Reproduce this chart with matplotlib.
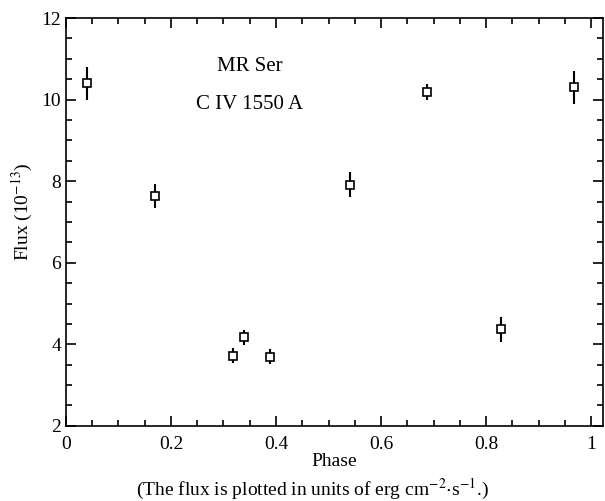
import numpy as np
import matplotlib.pyplot as plt
from matplotlib.ticker import MultipleLocator, FixedLocator

plt.rcParams['font.family'] = ['Liberation Serif', 'DejaVu Serif']
plt.rcParams['mathtext.fontset'] = 'stix'

# Data
phase = [0.041, 0.170, 0.319, 0.340, 0.389, 0.540, 0.687, 0.829, 0.968]
flux = [10.40, 7.64, 3.72, 4.17, 3.70, 7.91, 10.19, 4.37, 10.30]
flux_err = [0.40, 0.30, 0.18, 0.18, 0.18, 0.31, 0.19, 0.31, 0.40]

fig = plt.figure(figsize=(6.05, 5.01), dpi=100)
ax = fig.add_axes([0.109, 0.150, 0.888, 0.814])

ax.errorbar(phase, flux, yerr=flux_err, fmt='s', mfc='white', mec='black',
            ms=5.5, mew=1.2, ecolor='black', elinewidth=1.5, capsize=0, zorder=3)

ax.set_xlim(0, 1.023)
ax.set_ylim(2, 12)
ax.xaxis.set_major_locator(FixedLocator([0, 0.2, 0.4, 0.6, 0.8, 1.0]))
ax.set_xticklabels(['0', '0.2', '0.4', '0.6', '0.8', '1'])
ax.xaxis.set_minor_locator(MultipleLocator(0.05))
ax.yaxis.set_major_locator(MultipleLocator(2))
ax.yaxis.set_minor_locator(MultipleLocator(0.5))

ax.tick_params(which='both', direction='in', top=True, right=True,
               labelsize=14, width=1.2)
ax.tick_params(axis='x', pad=7)
ax.tick_params(which='major', length=7)
ax.tick_params(which='minor', length=4)
for s in ax.spines.values():
    s.set_linewidth(1.2)

ax.text(0.35, 10.8, 'MR Ser', ha='center', va='center', fontsize=15)
ax.text(0.35, 9.87, 'C IV 1550 A', ha='center', va='center', fontsize=15)

ax.set_xlabel('Phase', fontsize=14, labelpad=0)
ax.set_ylabel('Flux (10$^{-13}$)', fontsize=14)
ax.yaxis.set_label_coords(-0.058, 0.526)

fig.text(0.517, 0.024, '(The flux is plotted in units of erg cm$^{-2}$$\\cdot$s$^{-1}$.)',
         ha='center', va='center', fontsize=14)

fig.savefig('out.png', dpi=100)
